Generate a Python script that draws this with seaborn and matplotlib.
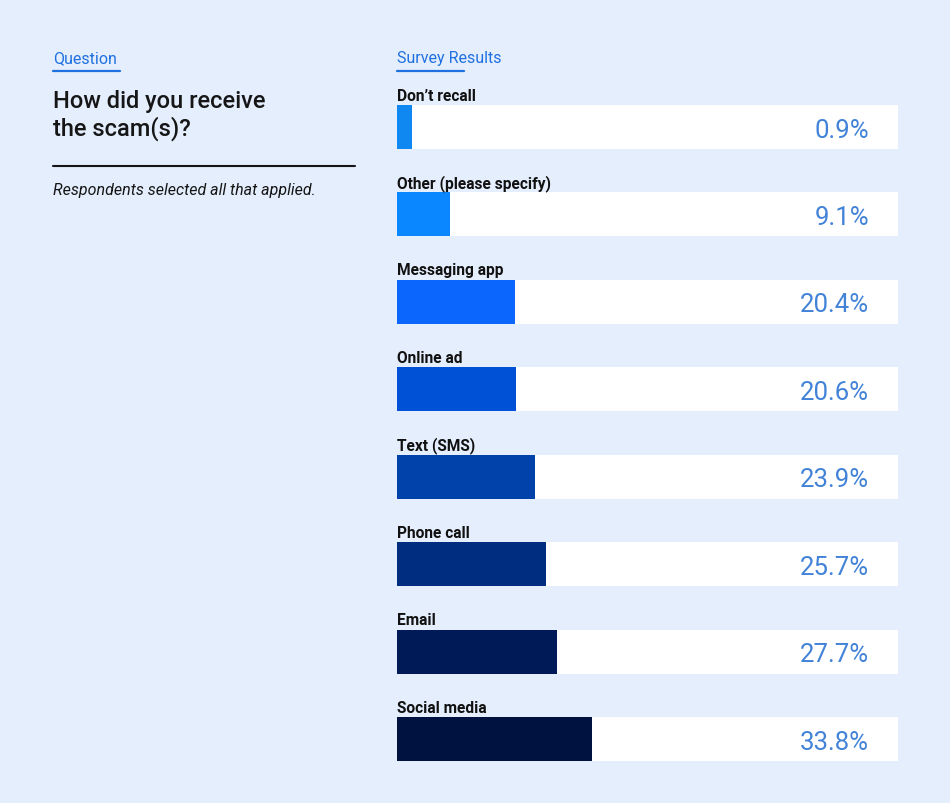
import numpy as np
import pandas as pd
import matplotlib
matplotlib.use("Agg")
import matplotlib.pyplot as plt
import seaborn as sns

# survey answers, top to bottom as shown
categories = ["Don’t recall", "Other (please specify)", "Messaging app", "Online ad",
              "Text (SMS)", "Phone call", "Email", "Social media"]
percent = [0.9, 9.1, 20.4, 20.6, 23.9, 25.7, 27.7, 33.8]
value_labels = ["0.9%", "9.1%", "20.4%", "20.6%", "23.9%", "25.7%", "27.7%", "33.8%"]
bar_colors = ["#0f88f2", "#0a86ff", "#0a66fc", "#0051d6", "#0042aa",
              "#002d80", "#001a58", "#00123f"]

scale_max = 86.7   # full width of the white track
min_visible = 2.6  # tiny values still get a visible stub

bg = "#e4eefc"
accent = "#1f70e0"
value_color = "#4283d8"

sns.set_theme(style="white")
plt.rcParams["font.family"] = ["Roboto", "DejaVu Sans"]

df = pd.DataFrame({"category": categories, "percent": percent})
df["shown"] = np.maximum(df["percent"], min_visible)
df["track"] = scale_max

fig = plt.figure(figsize=(9.5, 8.04), dpi=100, facecolor=bg)
W, H = 950, 804
bar_h = 0.503
ax = fig.add_axes([397 / W, 1 - 762 / H, 501 / W, 656 / H])
ax.set_facecolor(bg)

sns.barplot(data=df, y="category", x="track", color="white", width=bar_h,
            orient="h", ax=ax, saturation=1, linewidth=0)
sns.barplot(data=df, y="category", x="shown", hue="category", palette=bar_colors,
            width=bar_h, orient="h", ax=ax, legend=False, saturation=1, linewidth=0)

ax.set_xlim(0, scale_max)
ax.set_ylim(len(categories) - 1 + bar_h / 2, -bar_h / 2)
ax.axis("off")

for i, (cat, lab) in enumerate(zip(categories, value_labels)):
    ax.text(0, i - bar_h / 2 - 0.062, cat, ha="left", va="baseline",
            fontsize=11.2, fontweight="bold", color="#111111", clip_on=False)
    ax.text(scale_max * 0.9425, i + 0.03, lab, ha="right", va="center",
            fontsize=18.5, fontweight="normal", color=value_color)

# left column
def fx(px):
    return px / W

def fy(py):
    return 1 - py / H

fig.text(fx(53), fy(63), "Question", fontsize=11.5, color=accent, va="baseline")
fig.add_artist(plt.Line2D([fx(53), fx(120)], [fy(71.5), fy(71.5)], color=accent, lw=1.6))
fig.text(fx(397), fy(63), "Survey Results", fontsize=11.5, color=accent, va="baseline")
fig.add_artist(plt.Line2D([fx(397), fx(464)], [fy(71.5), fy(71.5)], color=accent, lw=1.6))

fig.text(fx(53), fy(108), "How did you receive", fontsize=17, fontweight="medium",
         color="#161616", va="baseline")
fig.text(fx(53), fy(136), "the scam(s)?", fontsize=17, fontweight="medium",
         color="#161616", va="baseline")
fig.add_artist(plt.Line2D([fx(53), fx(355)], [fy(166.5), fy(166.5)], color="#161616", lw=1.5))
fig.text(fx(53), fy(195), "Respondents selected all that applied.", fontsize=11.5,
         fontstyle="italic", color="#161616", va="baseline")

fig.savefig("out.png", dpi=100, facecolor=bg)
